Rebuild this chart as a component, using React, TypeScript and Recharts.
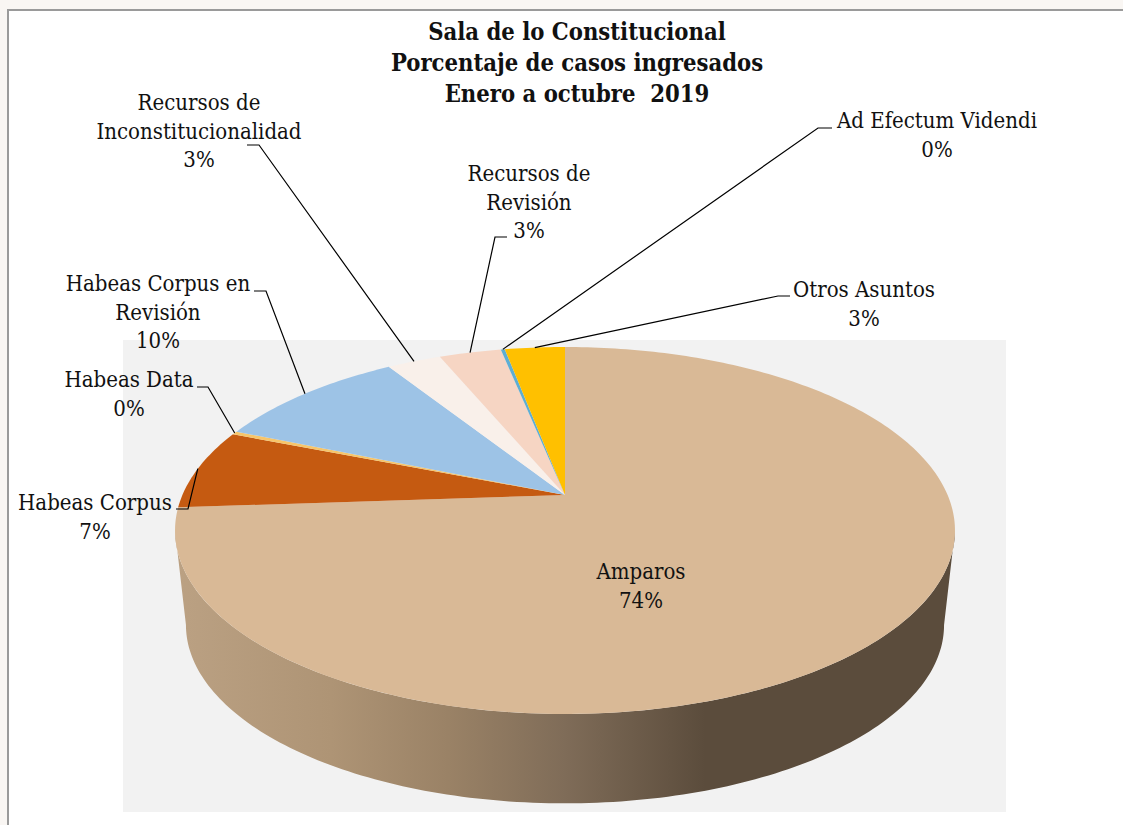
import { PieChart, Pie } from "recharts"

const categories = [
  "Amparos",
  "Habeas Corpus",
  "Habeas Data",
  "Habeas Corpus en Revisión",
  "Recursos de Inconstitucionalidad",
  "Recursos de Revisión",
  "Ad Efectum Videndi",
  "Otros Asuntos",
]
const values = [73.9, 7.1, 0.3, 9.7, 2.7, 3.1, 0.2, 3]
const colors = ["#d9b996", "#c55a11", "#f7c56a", "#9dc3e6", "#f9f0ea", "#f6d5c3", "#5eaed3", "#ffc000"]
const titleLines = ["Sala de lo Constitucional", "Porcentaje de casos ingresados", "Enero a octubre  2019"]

const data = categories.map((name, i) => ({ name, value: values[i], fill: colors[i] }))

// label placement, one entry per category
const labelLayout = [
  { lines: ["Amparos"], x: 641, y: 579 },
  { lines: ["Habeas Corpus"], x: 95, y: 510, elbow: [[176, 509], [188, 509]] },
  { lines: ["Habeas Data"], x: 129, y: 387, elbow: [[197, 387], [208, 387]] },
  { lines: ["Habeas Corpus en", "Revisión"], x: 158, y: 291, elbow: [[254, 291], [266, 291]] },
  { lines: ["Recursos de", "Inconstitucionalidad"], x: 199, y: 110, elbow: [[247, 145], [259, 145]] },
  { lines: ["Recursos de", "Revisión"], x: 529, y: 181, elbow: [[507, 237], [495, 237]] },
  { lines: ["Ad Efectum Videndi"], x: 937, y: 128, elbow: [[832, 128], [818, 128]] },
  { lines: ["Otros Asuntos"], x: 864, y: 297, elbow: [[790, 296], [778, 296]] },
]

const FONT = "'DejaVu Serif Condensed', 'DejaVu Serif', serif"
const LINE_H = 28.5

// the 3D look: the flat pie is tilted, with perspective
const TILT = 0.4616
const PERSP = 0.1935
const DEPTH = 95.5
const RAD = Math.PI / 180
const FRONT_FROM = -Math.asin(PERSP) / RAD
const FRONT_TO = -180 - FRONT_FROM

function project(cx, cy, r, angle) {
  const u = Math.cos(angle * RAD)
  const v = Math.sin(angle * RAD)
  const d = 1 + PERSP * v
  return [cx + (r * u) / d, cy - (r * TILT * v) / d]
}

function arc(cx, cy, r, from, to) {
  const n = Math.max(2, Math.ceil(Math.abs(to - from)))
  const pts = []
  for (let i = 0; i <= n; i++) {
    pts.push(project(cx, cy, r, from + ((to - from) * i) / n))
  }
  return pts
}

const toPath = (pts) => "M" + pts.map((p) => p[0].toFixed(2) + " " + p[1].toFixed(2)).join("L") + "Z"

function PieSlice(props) {
  const { cx, cy, outerRadius, startAngle, endAngle, fill } = props
  const top = [[cx, cy], ...arc(cx, cy, outerRadius, startAngle, endAngle)]
  const a0 = Math.min(startAngle, FRONT_FROM)
  const a1 = Math.max(endAngle, FRONT_TO)
  let wall = null
  if (a0 > a1) {
    const upper = arc(cx, cy, outerRadius, a0, a1)
    const lower = arc(cx, cy + DEPTH, outerRadius * 0.972, a1, a0)
    wall = <path d={toPath([...upper, ...lower])} fill="url(#wallShade)" />
  }
  return (
    <g>
      {wall}
      <path d={toPath(top)} fill={fill} />
    </g>
  )
}

function SliceLabel(props) {
  const { cx, cy, outerRadius, midAngle, percent, index } = props
  const layout = labelLayout[index]
  const rows = [...layout.lines, Math.round(percent * 100) + "%"]
  let leader = null
  if (layout.elbow) {
    const end = project(cx, cy, outerRadius, midAngle)
    const pts = [...layout.elbow, end].map((p) => p.join(",")).join(" ")
    leader = <polyline points={pts} fill="none" stroke="#000" strokeWidth={1.2} />
  }
  return (
    <g>
      {leader}
      {rows.map((row, i) => (
        <text key={i} x={layout.x} y={layout.y + i * LINE_H} textAnchor="middle" fontFamily={FONT} fontSize={22} fill="#111">
          {row}
        </text>
      ))}
    </g>
  )
}

export default function App() {
  return (
    <div style={{ position: "absolute", left: 0, top: 0, width: 1123, height: 825, background: "#f9f6f3", overflow: "hidden" }}>
      <div style={{ position: "absolute", left: 7, top: 9, width: 1116, height: 816, background: "#fff", borderLeft: "2px solid #9a9a9a", borderTop: "2px solid #9a9a9a" }} />
      <div style={{ position: "absolute", left: 123, top: 340, width: 883, height: 472, background: "#f2f2f2" }} />
      <div style={{ position: "absolute", left: 0, top: 0 }}>
        <PieChart width={1123} height={825} margin={{ top: 0, right: 0, bottom: 0, left: 0 }}>
          <defs>
            <linearGradient id="wallShade" gradientUnits="userSpaceOnUse" x1={175} y1={0} x2={955} y2={0}>
              <stop offset="0" stopColor="#bba183" />
              <stop offset="0.2" stopColor="#ae9475" />
              <stop offset="0.35" stopColor="#9a8266" />
              <stop offset="0.5" stopColor="#7f6c58" />
              <stop offset="0.68" stopColor="#5b4c3c" />
              <stop offset="1" stopColor="#5b4c3c" />
            </linearGradient>
          </defs>
          <Pie
            data={data}
            dataKey="value"
            nameKey="name"
            cx={565}
            cy={495}
            innerRadius={0}
            outerRadius={382.6}
            startAngle={90}
            endAngle={-270}
            stroke="none"
            shape={PieSlice}
            label={SliceLabel}
            labelLine={false}
            isAnimationActive={false}
          />
          {titleLines.map((line, i) => (
            <text key={i} x={577} y={40 + i * 31} textAnchor="middle" fontFamily={FONT} fontSize={23.6} fontWeight="bold" fill="#111" style={{ whiteSpace: "pre" }}>
              {line}
            </text>
          ))}
        </PieChart>
      </div>
    </div>
  )
}
